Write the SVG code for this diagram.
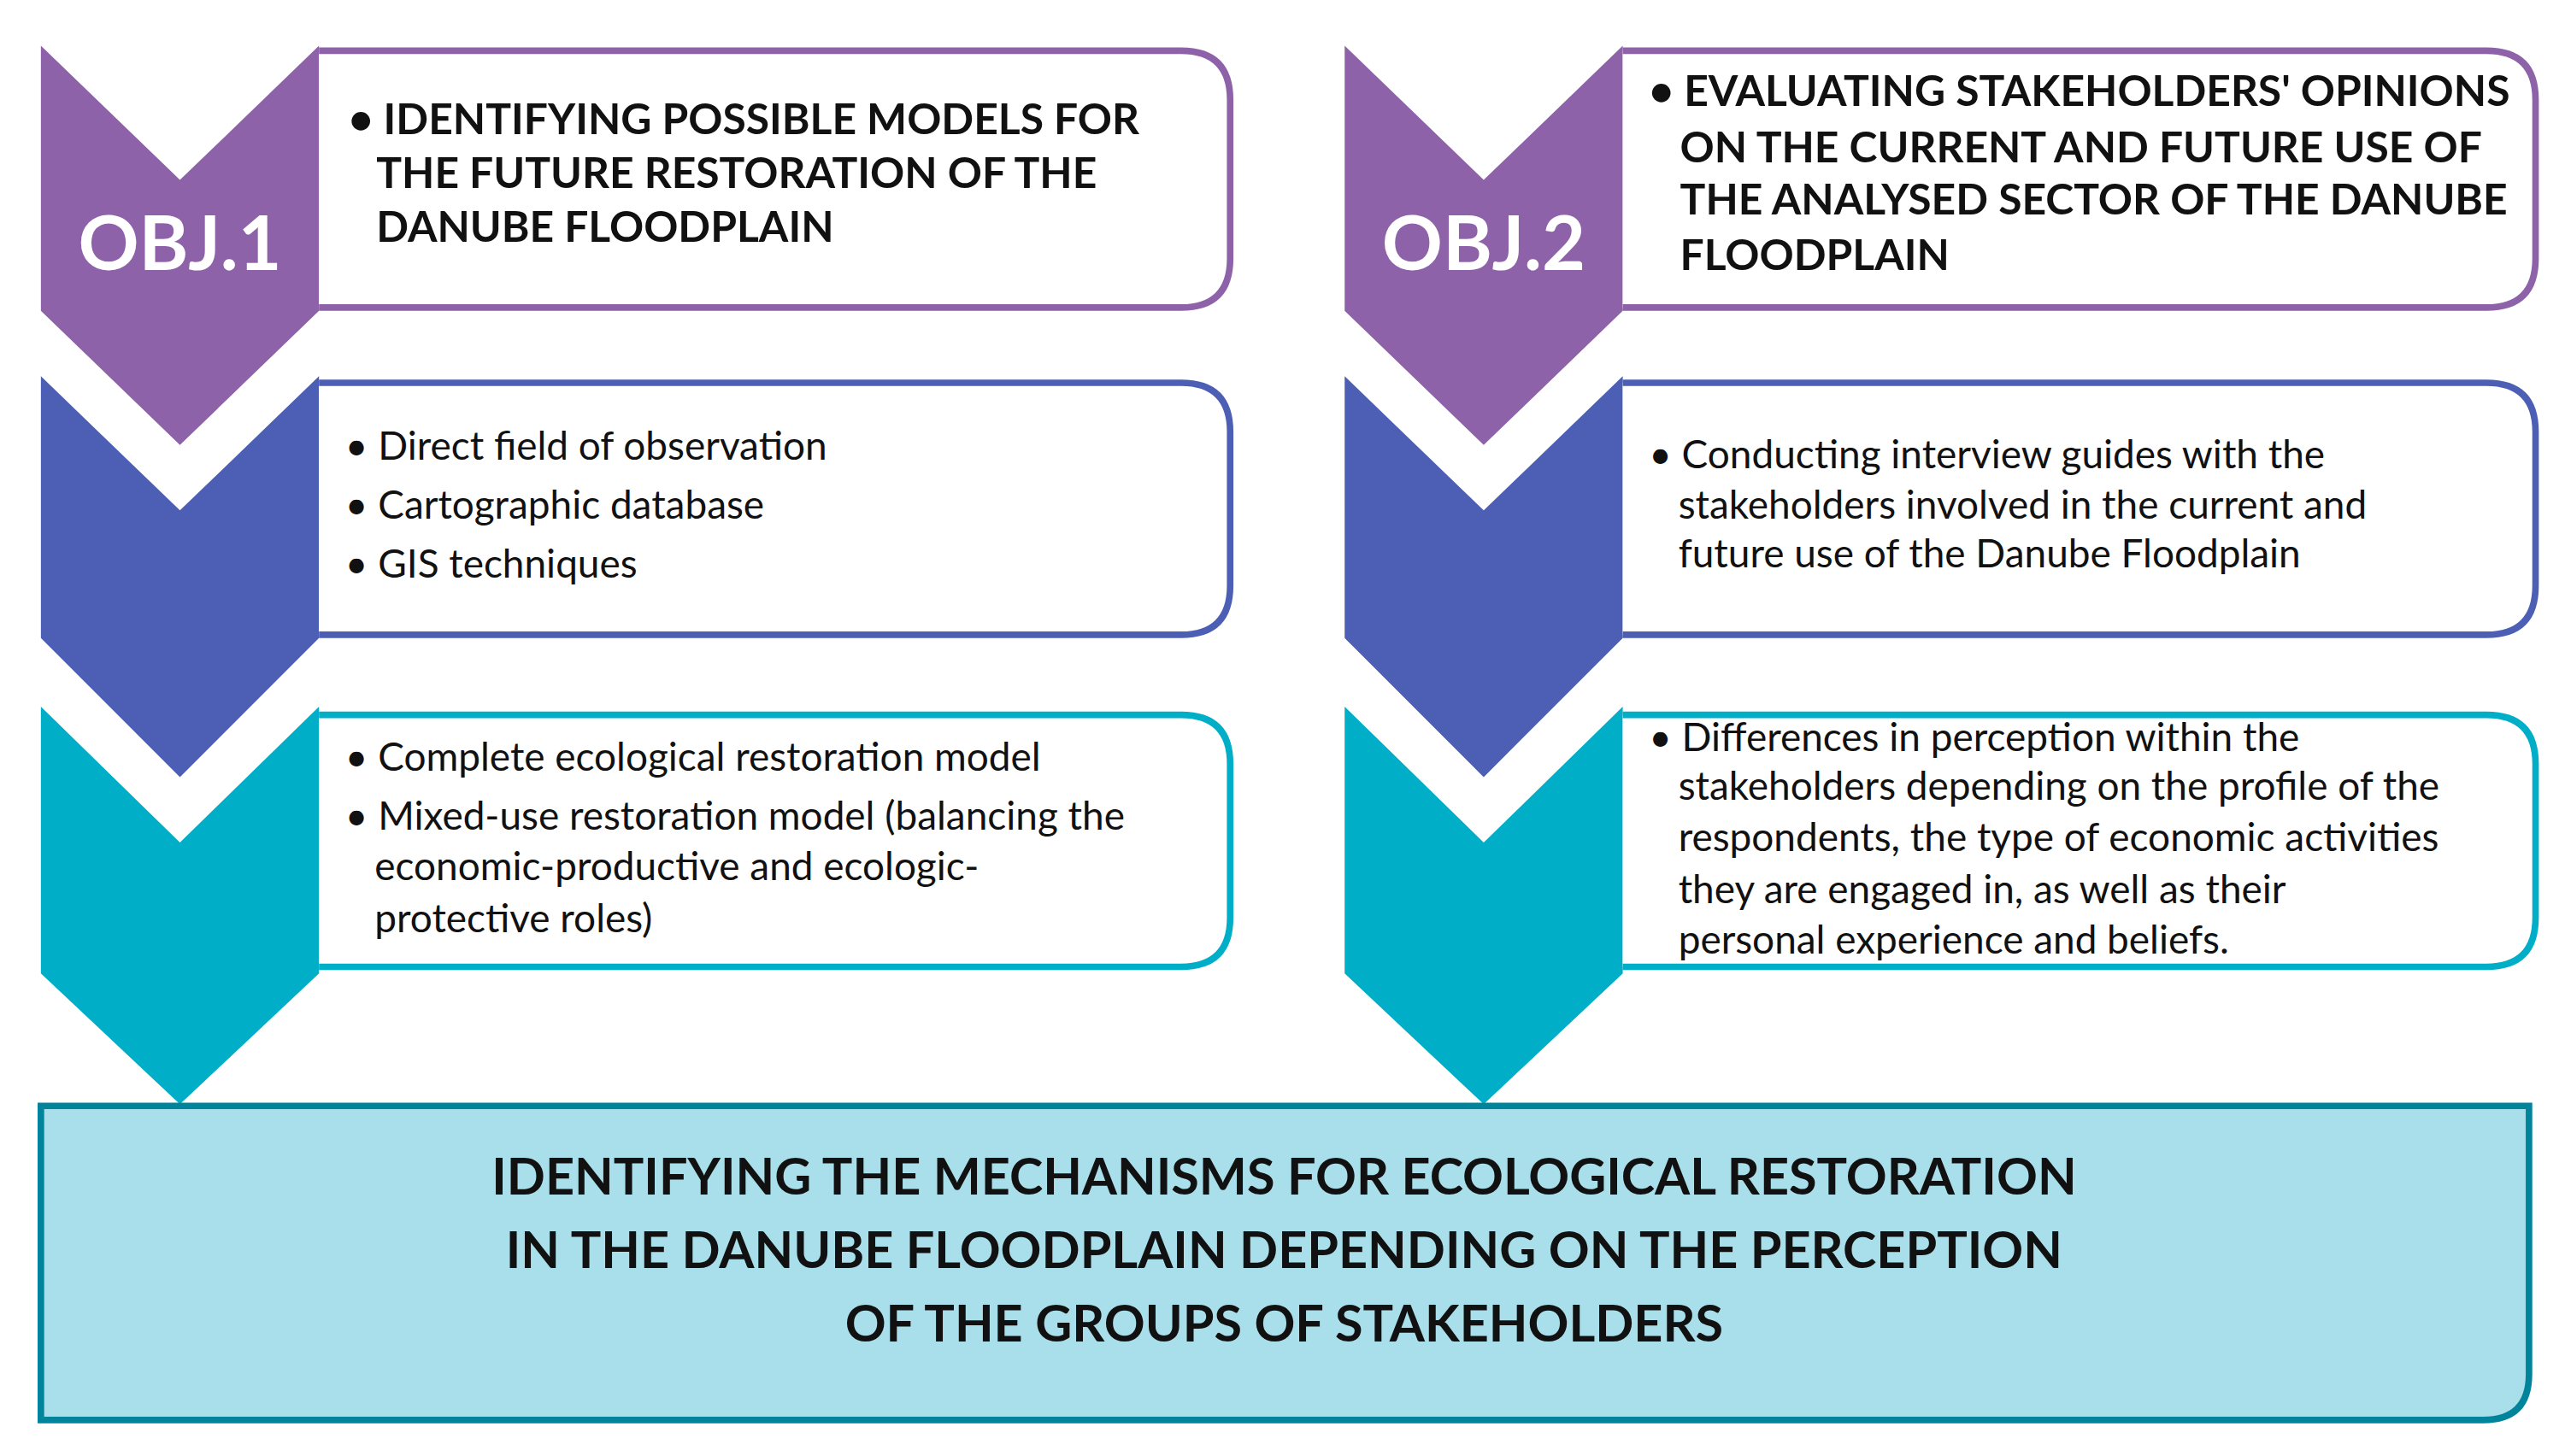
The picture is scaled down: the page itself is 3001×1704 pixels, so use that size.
<svg xmlns="http://www.w3.org/2000/svg" width="3001" height="1704" viewBox="0 0 3001 1704">
<style>
.t{font-family:Lato,"Open Sans",sans-serif;font-size:24px;fill:#111}
.b{font-family:Lato,"Open Sans",sans-serif;font-size:26px;font-weight:bold;fill:#111}
.obj{font-family:Lato,"Open Sans",sans-serif;font-size:46px;font-weight:bold;fill:#fff;text-anchor:middle}
.fin{font-family:Lato,"Open Sans",sans-serif;font-size:31px;font-weight:bold;fill:#111;text-anchor:middle}
.box{fill:#fff;stroke-width:4}
</style>
<rect width="3001" height="1704" fill="#fff"/>
<g transform="scale(1.9139,1.9146)">
<g id="connectors">
<path d="M25,28 L110,110 L195,28 L195,190 L110,272 L25,190Z" fill="#8D62A9"/>
<path d="M25,230 L110,312 L195,230 L195,390 L110,475 L25,390Z" fill="#4C5FB4"/>
<path d="M25,432 L110,515 L195,432 L195,595 L110,675 L25,595Z" fill="#00AEC7"/>
<path d="M822,28 L907,110 L992,28 L992,190 L907,272 L822,190Z" fill="#8D62A9"/>
<path d="M822,230 L907,312 L992,230 L992,390 L907,475 L822,390Z" fill="#4C5FB4"/>
<path d="M822,432 L907,515 L992,432 L992,595 L907,675 L822,595Z" fill="#00AEC7"/>
</g>
<g id="obj1">
<path class="box" stroke="#8D62A9" d="M195,31 H722 Q752,31 752,61 V158 Q752,188 722,188 H195"/>
<text class="obj" x="110" y="165">OBJ.1</text>
<text class="b"><tspan x="213" y="82">• IDENTIFYING POSSIBLE MODELS FOR</tspan><tspan x="230" y="115">THE FUTURE RESTORATION OF THE</tspan><tspan x="230" y="148">DANUBE FLOODPLAIN</tspan></text>
</g>
<g id="methods1">
<path class="box" stroke="#4C5FB4" d="M195,234 H722 Q752,234 752,264 V358 Q752,388 722,388 H195"/>
<text class="t"><tspan x="211" y="281">• Direct field of observation</tspan><tspan x="211" y="317">• Cartographic database</tspan><tspan x="211" y="353">• GIS techniques</tspan></text>
</g>
<g id="results1">
<path class="box" stroke="#00AEC7" d="M195,437 H722 Q752,437 752,467 V561 Q752,591 722,591 H195"/>
<text class="t"><tspan x="211" y="471">• Complete ecological restoration model</tspan><tspan x="211" y="507">• Mixed-use restoration model (balancing  the</tspan><tspan x="229" y="538">economic-productive and ecologic-</tspan><tspan x="229" y="570">protective roles)</tspan></text>
</g>
<g id="obj2">
<path class="box" stroke="#8D62A9" d="M992,31 H1520 Q1550,31 1550,61 V158 Q1550,188 1520,188 H992"/>
<text class="obj" x="907" y="165">OBJ.2</text>
<text class="b"><tspan x="1008" y="65">• EVALUATING STAKEHOLDERS' OPINIONS</tspan><tspan x="1027" y="99">ON THE CURRENT AND FUTURE USE OF</tspan><tspan x="1027" y="131">THE ANALYSED SECTOR OF THE DANUBE</tspan><tspan x="1027" y="165">FLOODPLAIN</tspan></text>
</g>
<g id="methods2">
<path class="box" stroke="#4C5FB4" d="M992,234 H1520 Q1550,234 1550,264 V358 Q1550,388 1520,388 H992"/>
<text class="t"><tspan x="1008" y="286">• Conducting interview guides with  the</tspan><tspan x="1026" y="317">stakeholders involved in the current and</tspan><tspan x="1026" y="347">future use of the Danube Floodplain</tspan></text>
</g>
<g id="results2">
<path class="box" stroke="#00AEC7" d="M992,437 H1520 Q1550,437 1550,467 V561 Q1550,591 1520,591 H992"/>
<text class="t"><tspan x="1008" y="459">• Differences in perception within the</tspan><tspan x="1026" y="489">stakeholders depending on the profile of the</tspan><tspan x="1026" y="520">respondents, the type of economic activities</tspan><tspan x="1026" y="552">they are engaged in, as well as  their</tspan><tspan x="1026" y="583">personal experience and beliefs.</tspan></text>
</g>
<g id="final">
<path d="M25,676 H1546 V840 Q1546,868 1518,868 H25 Z" fill="#A9DFEA" stroke="#00849C" stroke-width="4"/>
<text class="fin"><tspan x="785" y="730">IDENTIFYING THE MECHANISMS FOR ECOLOGICAL RESTORATION</tspan><tspan x="785" y="775">IN THE DANUBE FLOODPLAIN DEPENDING ON THE PERCEPTION</tspan><tspan x="785" y="820">OF THE GROUPS OF STAKEHOLDERS</tspan></text>
</g>
</g>
</svg>
